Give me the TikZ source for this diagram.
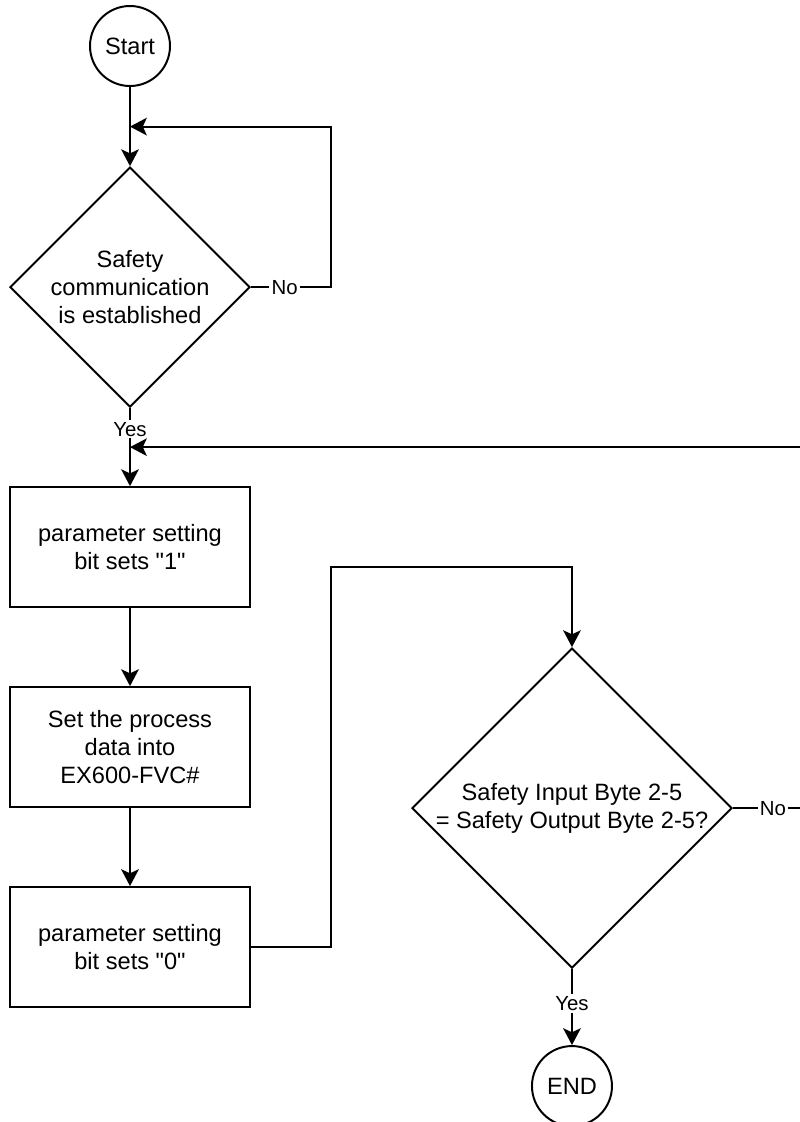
\documentclass[tikz,border=0pt]{standalone}
\usepackage{fontspec}
\setmainfont{Liberation Sans}
\usetikzlibrary{shapes.geometric, arrows.meta, positioning, calc}

\begin{document}
\begin{tikzpicture}[
  node distance=1.95cm and 2cm,
  line width=1.4pt,
  terminal/.style={circle, draw, minimum size=2cm, inner sep=0pt, font=\fontsize{16.8}{19.9}\selectfont},
  process/.style={rectangle, draw, minimum width=6cm, minimum height=3cm, align=center, font=\fontsize{16.8}{19.9}\selectfont},
  decision/.style={diamond, draw, aspect=1, inner sep=0pt, align=center, font=\fontsize{16.8}{19.9}\selectfont},
  arrowstyle/.style={-{Stealth[length=0.42cm, width=0.44cm, inset=0.1cm]}},
  answer/.style={fill=white, inner sep=1.5pt, font=\fontsize{14.5}{16}\selectfont}
]
\useasboundingbox (0,0) rectangle (20,-28.05);

\node[terminal] (S) at (3.25,-1.15) {Start};
\node[decision, minimum size=6cm, below=1.98cm of S] (D1) {Safety\\communication\\is established};
\node[process, below=of D1] (R1) {parameter setting\\bit sets \textquotedbl 1\textquotedbl};
\node[process, below=of R1] (R2) {Set the process\\data into\\EX600-FVC\#};
\node[process, below=of R2] (R3) {parameter setting\\bit sets \textquotedbl 0\textquotedbl};

\node[decision, minimum size=8cm, inner xsep=-0.15cm, right=4cm of R2.south east] (D2) {Safety Input Byte 2-5\\= Safety Output Byte 2-5?};
\node[terminal, below=1.9cm of D2] (E) {END};

\coordinate (J1) at ($(S.south)!0.5!(D1.north)$);
\coordinate (J2) at ($(D1.south)!0.5!(R1.north)$);

\draw[arrowstyle] (S) -- (D1);
\draw[arrowstyle] (D1.east) -- node[answer, pos=0.42]{No} ++(2cm,0) |- (J1);
\draw[arrowstyle] (D1) -- node[answer, pos=0.27]{Yes} (R1);
\draw[arrowstyle] (R1) -- (R2);
\draw[arrowstyle] (R2) -- (R3);
\draw[arrowstyle] (R3.east) -- ++(2cm,0) |- ($(D2.north)+(0,2cm)$) -- (D2.north);
\draw[arrowstyle] (D2.east) -- node[answer, pos=0.4]{No} ++(2.5cm,0) |- (J2);
\draw[arrowstyle] (D2) -- node[answer, pos=0.45]{Yes} (E);

\end{tikzpicture}
\end{document}
